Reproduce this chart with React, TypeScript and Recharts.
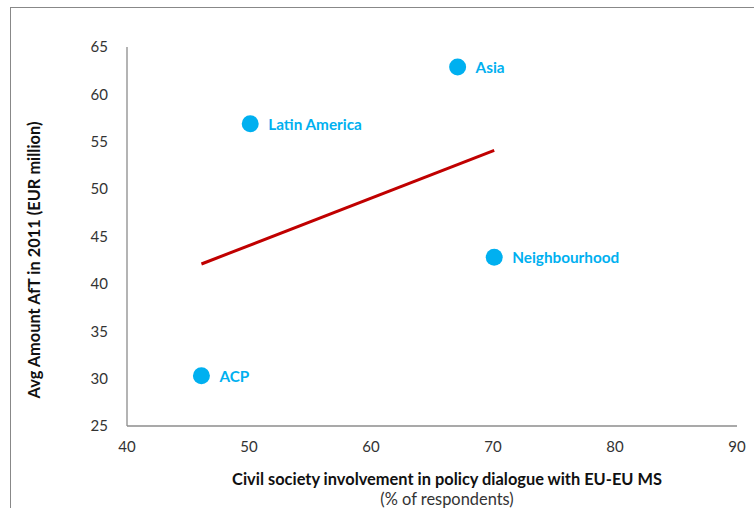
import { Scatter, ScatterChart, XAxis, YAxis, Label } from "recharts";

const regions = ["Asia", "Latin America", "Neighbourhood", "ACP"];
const involvement = [67.1, 50.1, 70.1, 46.1];
const aftAmount = [62.9, 56.9, 42.8, 30.3];
const trendX = [46.1, 70.1];
const trendY = [42.1, 54.1];
const xTicks = [40, 50, 60, 70, 80, 90];
const yTicks = [25, 30, 35, 40, 45, 50, 55, 60, 65];

const points = regions.map((name, i) => ({
  name,
  x: involvement[i],
  y: aftAmount[i],
}));
const trend = trendX.map((x, i) => ({ x, y: trendY[i] }));

const FONT = "Lato, 'Open Sans', sans-serif";
const BLUE = "#00B0F0";
const AXIS = "#8c8c8c";

function Dot(props: any) {
  const { cx, cy, payload } = props;
  return (
    <g>
      <circle cx={cx} cy={cy} r={8.5} fill={BLUE} />
      <text
        x={cx + 18}
        y={cy}
        dominantBaseline="central"
        fill={BLUE}
        fontSize={15.3}
        fontWeight="bold"
        fontFamily={FONT}
      >
        {payload.name}
      </text>
    </g>
  );
}

export default function App() {
  return (
    <div
      style={{
        position: "absolute",
        left: 0,
        top: 0,
        width: 754,
        height: 508,
        overflow: "hidden",
        background: "#fff",
      }}
    >
      <div
        style={{
          position: "absolute",
          left: 10,
          top: 7,
          width: 800,
          height: 600,
          borderTop: "1.5px solid #888",
          borderLeft: "1.5px solid #888",
        }}
      />
      <div style={{ position: "absolute", left: 0, top: 0 }}>
        <ScatterChart
          width={754}
          height={508}
          margin={{ top: 47, right: 17, bottom: 52, left: 67 }}
        >
          <XAxis
            type="number"
            dataKey="x"
            domain={[40, 90]}
            ticks={xTicks}
            axisLine={{ stroke: AXIS, strokeWidth: 1.3 }}
            tickLine={false}
            tickSize={0}
            tickMargin={15}
            height={30}
            tick={{ fill: "#333", fontSize: 15, fontFamily: FONT }}
          >
            <Label
              content={() => (
                <g fontFamily={FONT} textAnchor="middle">
                  <text
                    x={447}
                    y={485}
                    fontSize={16.4}
                    fontWeight="bold"
                    fill="#111"
                  >
                    Civil society involvement in policy dialogue with EU-EU MS
                  </text>
                  <text x={447} y={505} fontSize={16.4} fill="#333">
                    (% of respondents)
                  </text>
                </g>
              )}
            />
          </XAxis>
          <YAxis
            type="number"
            dataKey="y"
            domain={[25, 65]}
            ticks={yTicks}
            width={60}
            axisLine={{ stroke: AXIS, strokeWidth: 1.3 }}
            tickLine={false}
            tickSize={0}
            tickMargin={19}
            tick={{ fill: "#333", fontSize: 15, fontFamily: FONT }}
          >
            <Label
              content={() => (
                <text
                  x={40}
                  y={260}
                  transform="rotate(-90 40 260)"
                  textAnchor="middle"
                  fontSize={16.4}
                  fontWeight="bold"
                  fontFamily={FONT}
                  fill="#111"
                >
                  Avg Amount AfT in 2011 (EUR million)
                </text>
              )}
            />
          </YAxis>
          <Scatter
            data={trend}
            line={{ stroke: "#C00000", strokeWidth: 3 }}
            shape={() => <g />}
            isAnimationActive={false}
          />
          <Scatter data={points} shape={Dot} isAnimationActive={false} />
        </ScatterChart>
      </div>
    </div>
  );
}
